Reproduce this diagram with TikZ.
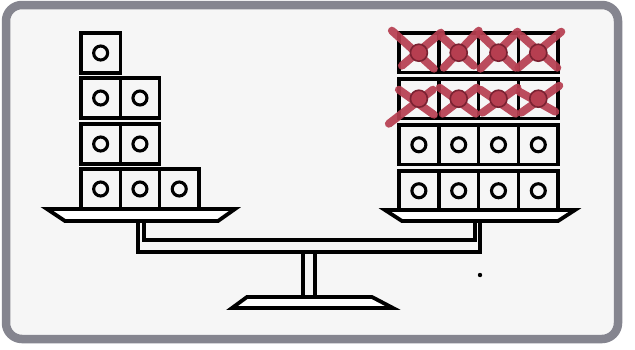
\documentclass[tikz,border=0pt]{standalone}
\usepackage{xcolor}
\definecolor{framegray}{HTML}{85858F}
\definecolor{xred}{HTML}{B63E50}
\definecolor{xdark}{HTML}{7A2232}
\definecolor{paper}{HTML}{F6F6F6}
\tikzset{
  blk/.style={draw=black, line width=3.6pt},
  ring/.style={draw=black, line width=3.1pt},
  pan/.style={draw=black, line width=3.8pt, line join=miter, fill=white},
  beam/.style={draw=black, line width=3.6pt, line join=miter},
  xmark/.style={draw=xred, line width=8pt, line cap=round, opacity=0.92},
  xdot/.style={fill=xred, draw=xdark, line width=1.6pt}
}
\usetikzlibrary{calc}
\newcommand{\myredx}[6]{%
  \draw[xmark] ($(#1,#2)+(#3)$) -- ($(#1,#2)+(#4)$);
  \draw[xmark] ($(#1,#2)+(#5)$) -- ($(#1,#2)+(#6)$);
  \draw[xdot] (#1,#2) circle[radius=8.5pt];
}
\begin{document}
\begin{tikzpicture}[x=1pt,y=-1pt]
\useasboundingbox (0,0) rectangle (635,349);
\fill[white] (0,0) rectangle (635,349);
\fill[paper, rounded corners=16pt] (6,5) rectangle (618,339);
\draw[framegray, line width=8.5pt, rounded corners=16pt] (6,5) rectangle (618,339);

% left stack
\foreach \r/\n in {33/1, 78/2, 124/2, 169/3} {
  \foreach \c in {1,...,\n} {
    \draw[blk] ({81+(\c-1)*39.3},\r) rectangle ++(39.3,40);
    \draw[ring] ({81+(\c-0.5)*39.3},{\r+20}) circle[radius=7pt];
  }
}
% right stack
\foreach \r in {33,79,125,171} {
  \foreach \c in {1,...,4} {
    \draw[blk] ({399+(\c-1)*39.8},\r) rectangle ++(39.8,39.5);
    \draw[ring] ({399+(\c-0.5)*39.8},{\r+19.75}) circle[radius=7pt];
  }
}

% red crosses, top row
\myredx{418.9}{52.7}{-27,-22}{15,16}{22,-20}{-17,13}
\myredx{458.7}{52.7}{-17,-16}{15,13}{20,-22}{-15,15}
\myredx{498.5}{52.7}{-19,-19}{17,15}{19,-21}{-18,16}
\myredx{538.3}{52.7}{-17,-17}{19,15}{23,-21}{-20,15}
% red crosses, second row
\myredx{418.9}{98.7}{-20,-9}{15,16}{-30,25}{14,-9}
\myredx{458.7}{98.7}{-19,-11}{17,15}{18,-11}{-16,15}
\myredx{498.5}{98.7}{-18,-9}{17,15}{19,-11}{-16,14}
\myredx{538.3}{98.7}{-19,-7}{17,13}{21,-13}{-17,14}

% pans
\draw[pan] (47,209) -- (235,209) -- (218,221) -- (65,221) -- cycle;
\draw[pan] (385,210) -- (575,210) -- (558,221) -- (402,221) -- cycle;

% beam
\draw[beam] (138,221) -- (138,252) -- (480,252) -- (480,221);
\draw[beam] (144,221) -- (144,240) -- (475,240) -- (475,221);
% post
\draw[beam] (303,252) -- (303,297);
\draw[beam] (315,252) -- (315,297);
% base
\draw[pan] (247,297) -- (372,297) -- (393,308) -- (232,308) -- cycle;

% speck
\fill[black] (480,275) circle[radius=2.2pt];
\end{tikzpicture}
\end{document}
